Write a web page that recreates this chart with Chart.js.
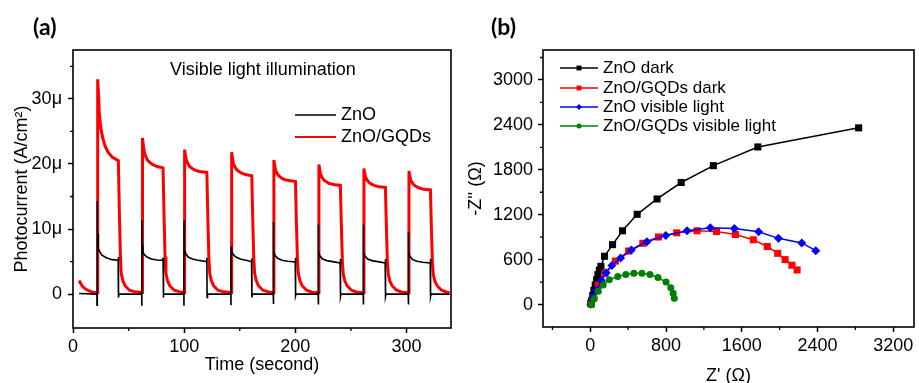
<!DOCTYPE html>
<html>
<head>
<meta charset="utf-8">
<script src="https://cdn.jsdelivr.net/npm/chart.js@4.4.1/dist/chart.umd.min.js"></script>
<style>
  body { margin: 0; background: #fff; }
  #wrap { position: relative; width: 919px; height: 383px; overflow: hidden; }
  canvas { position: absolute; top: 0; }
  #chartA { left: 0; }
  #chartB { left: 460px; }
</style>
</head>
<body>
<div id="wrap">
  <canvas id="chartA" width="460" height="383"></canvas>
  <canvas id="chartB" width="459" height="383"></canvas>
</div>
<script>
// ---- (a) photocurrent (uA/cm2) vs time (s) ----
const znoTime = [
  5.5, 21.5, 21.6, 21.7, 22.0, 22.5, 22.8, 23.8, 26, 30, 35, 40.6, 40.8, 41.0, 41.4, 61.8,
  61.9, 62.0, 62.3, 62.7, 63.0, 64, 66.5, 70.5, 75.5, 80.8, 81.0, 81.2, 81.6, 99.7,
  99.8, 99.9, 100.2, 101.2, 103.5, 107.5, 112.5, 120.2, 120.4, 120.6, 121.0, 142.0,
  142.1, 142.2, 142.7, 144, 146.5, 150.5, 155.5, 160.6, 160.8, 161.0, 161.4, 180.1,
  180.2, 180.3, 180.6, 181.5, 184, 188, 193, 199.9, 200.1, 200.3, 200.7, 220.5,
  220.6, 220.7, 221.0, 222, 224.5, 228.5, 233.5, 240.3, 240.5, 240.7, 241.1, 261.0,
  261.1, 261.2, 261.5, 262.5, 265, 269, 274, 280.8, 281.0, 281.2, 281.6, 301.5,
  301.6, 301.7, 302.0, 303, 305.5, 309.5, 314.5, 321.3, 321.5, 321.7, 322.1, 338.7
];
const znoCurrent = [
  0.1, 0.0, -1.7, 14.3, 7.0, 9.3, 7.0, 6.6, 6.0, 5.6, 5.3, 5.2, 5.7, -0.5, 0.0, 0.0,
  -1.8, 11.4, 6.8, 7.6, 6.4, 6.1, 5.7, 5.4, 5.25, 5.2, 5.6, -0.5, 0.0, 0.0,
  -1.8, 11.3, 6.8, 6.3, 5.7, 5.4, 5.2, 5.0, 5.6, -0.5, 0.0, 0.0,
  -1.7, 7.3, 6.6, 6.1, 5.7, 5.4, 5.2, 5.0, 5.5, -0.5, 0.0, 0.0,
  -1.5, 11.1, 6.6, 6.0, 5.5, 5.2, 5.05, 4.95, 5.6, -0.3, 0.0, 0.0,
  -1.6, 10.7, 6.5, 5.9, 5.4, 5.15, 5.0, 4.8, 5.4, -0.4, 0.0, 0.0,
  -1.6, 10.7, 6.5, 5.9, 5.4, 5.15, 5.0, 4.8, 5.4, -0.4, 0.0, 0.0,
  -1.6, 9.5, 6.4, 5.8, 5.3, 5.05, 4.9, 4.8, 5.4, -0.4, 0.0, 0.0
];
const gqdTime = [
  5.5, 7, 9, 12, 15, 18, 21.9,
  22.2, 22.8, 23.7, 25, 26.7, 29, 31.5, 35.5, 40.8, 41.7, 42.6, 43.4, 44.8, 46.8, 50.8, 55.8, 62.2,
  62.5, 63.1, 64.0, 65.3, 67, 69.3, 71.8, 75.8, 81.0, 81.9, 82.8, 83.6, 85, 87, 91, 96, 100.1,
  100.4, 101.0, 101.9, 103.2, 104.9, 107.2, 109.7, 113.7, 120.4, 121.3, 122.2, 123.0, 124.4, 126.4, 130.4, 135.4, 142.4,
  142.7, 143.3, 144.2, 145.5, 147.2, 149.5, 152, 156, 160.8, 161.7, 162.6, 163.4, 164.8, 166.8, 170.8, 175.8, 180.4,
  180.7, 181.3, 182.2, 183.5, 185.2, 187.5, 190, 194, 200.1, 201.0, 201.9, 202.7, 204.1, 206.1, 210.1, 215.1, 220.9,
  221.2, 221.8, 222.7, 224, 225.7, 228, 230.5, 234.5, 240.5, 241.4, 242.3, 243.1, 244.5, 246.5, 250.5, 255.5, 261.4,
  261.7, 262.3, 263.2, 264.5, 266.2, 268.5, 271, 275, 281.0, 281.9, 282.8, 283.6, 285, 287, 291, 296, 301.9,
  302.2, 302.8, 303.7, 305, 306.7, 309, 311.5, 315.5, 321.5, 322.4, 323.3, 324.1, 325.5, 327.5, 331.5, 336.5, 338.7
];
const gqdCurrent = [
  2.1, 1.6, 1.1, 0.7, 0.45, 0.3, 0.25,
  33.0, 31.2, 27.6, 25.5, 24.0, 22.7, 21.8, 21.0, 20.5, 12.7, 6.2, 3.2, 2.1, 1.3, 0.6, 0.35, 0.25,
  24.0, 23.1, 21.9, 21.2, 20.6, 20.2, 19.9, 19.6, 19.4, 12.0, 5.8, 3.2, 2.1, 1.3, 0.6, 0.35, 0.25,
  22.2, 21.5, 20.6, 20.1, 19.6, 19.3, 19.05, 18.85, 18.7, 11.6, 5.6, 3.2, 2.1, 1.3, 0.6, 0.35, 0.25,
  21.8, 21.1, 20.1, 19.6, 19.1, 18.8, 18.55, 18.35, 18.2, 11.3, 5.5, 3.2, 2.1, 1.3, 0.6, 0.35, 0.25,
  20.6, 19.9, 19.05, 18.55, 18.15, 17.85, 17.6, 17.45, 17.3, 10.7, 5.2, 3.2, 2.1, 1.3, 0.6, 0.3, 0.2,
  19.9, 19.2, 18.4, 17.95, 17.5, 17.25, 17.0, 16.85, 16.7, 10.4, 5.0, 3.1, 2.0, 1.3, 0.6, 0.3, 0.2,
  19.3, 18.7, 17.95, 17.55, 17.15, 16.9, 16.7, 16.5, 16.4, 10.2, 4.9, 3.1, 2.0, 1.3, 0.6, 0.3, 0.2,
  18.9, 18.3, 17.55, 17.15, 16.75, 16.5, 16.3, 16.1, 16.0, 9.9, 4.8, 3.0, 2.0, 1.3, 0.6, 0.3, 0.25
];
const timeTicks = [0, 100, 200, 300];
const timeMinor = [50, 150, 250];
const currentTicks = [0, 10, 20, 30];
const currentTickLabels = ['0', '10\u03bc', '20\u03bc', '30\u03bc'];
const currentMinor = [5, 15, 25, 35];

// ---- (b) Nyquist plots, Z' and -Z'' in ohm ----
const znoDarkRe = [5, 12, 25, 38, 52, 66, 80, 95, 112, 150, 235, 340, 495, 705, 960, 1300, 1770, 2835];
const znoDarkIm = [15, 50, 120, 190, 260, 330, 400, 460, 510, 645, 800, 985, 1205, 1410, 1630, 1855, 2105, 2360];
const gqdDarkRe = [10, 30, 84, 155, 265, 405, 555, 720, 913, 1128, 1333, 1533, 1722, 1870, 1980, 2058, 2130, 2185];
const gqdDarkIm = [5, 90, 260, 420, 580, 715, 818, 902, 958, 985, 975, 935, 865, 775, 684, 600, 525, 462];
const znoLightRe = [5, 30, 66, 118, 168, 228, 320, 433, 598, 797, 1022, 1268, 1522, 1778, 1988, 2234, 2382];
const znoLightIm = [5, 100, 190, 320, 425, 520, 620, 729, 838, 922, 987, 1025, 1016, 973, 884, 823, 720];
const gqdLightRe = [10, 42, 84, 136, 200, 290, 375, 460, 545, 630, 715, 800, 850, 875, 887];
const gqdLightIm = [0, 76, 177, 262, 330, 375, 400, 418, 418, 400, 360, 300, 225, 150, 84];
const zReTicks = [0, 800, 1600, 2400, 3200];
const zReMinor = [-400, 400, 1200, 2000, 2800];
const zImTicks = [0, 600, 1200, 1800, 2400, 3000];
const zImMinor = [300, 900, 1500, 2100, 2700, 3300];

const FONT = "'Liberation Sans', Arial, sans-serif";
const pts = (xs, ys) => xs.map((x, i) => ({ x, y: ys[i] }));

// frame box, short minor ticks, panel letter, legend and notes
function decorPlugin(opts) {
  return {
    id: 'decor',
    afterDatasetsDraw(chart) {
      const ctx = chart.ctx;
      const a = chart.chartArea;
      const xs = chart.scales.x, ys = chart.scales.y;
      ctx.save();
      ctx.strokeStyle = '#000';
      ctx.lineWidth = 1.6;
      ctx.strokeRect(a.left, a.top, a.right - a.left, a.bottom - a.top);
      ctx.lineWidth = 1.3;
      ctx.beginPath();
      opts.xMinor.forEach(v => {
        const px = xs.getPixelForValue(v);
        ctx.moveTo(px, a.bottom);
        ctx.lineTo(px, a.bottom + 3);
      });
      opts.yMinor.forEach(v => {
        const py = ys.getPixelForValue(v);
        ctx.moveTo(a.left, py);
        ctx.lineTo(a.left - 3, py);
      });
      ctx.stroke();
      ctx.restore();
    },
    afterDraw(chart) {
      const ctx = chart.ctx;
      ctx.save();
      ctx.fillStyle = '#000';
      ctx.textBaseline = 'middle';
      ctx.textAlign = 'left';
      ctx.font = "bold 23px Lato, 'Liberation Sans', sans-serif";
      ctx.fillText(opts.letter, opts.letterX, 28);
      (opts.notes || []).forEach(n => {
        ctx.font = n.size + 'px ' + FONT;
        ctx.fillText(n.text, n.x, n.y);
      });
      opts.legend.forEach(item => {
        ctx.strokeStyle = item.color;
        ctx.lineWidth = item.width;
        ctx.beginPath();
        ctx.moveTo(item.x1, item.y);
        ctx.lineTo(item.x2, item.y);
        ctx.stroke();
        if (item.marker) {
          ctx.fillStyle = item.color;
          Chart.helpers.drawPoint(ctx, { pointStyle: item.marker, radius: item.r, borderWidth: 0 },
            (item.x1 + item.x2) / 2, item.y);
        }
        ctx.fillStyle = '#000';
        ctx.font = item.size + 'px ' + FONT;
        ctx.fillText(item.label, item.x2 + 5, item.y);
      });
      ctx.restore();
    }
  };
}

function axis(cfg) {
  return {
    type: 'linear',
    min: cfg.min,
    max: cfg.max,
    border: { display: false },
    grid: { display: true, drawOnChartArea: false, drawTicks: true, tickLength: 5, tickColor: '#000', tickWidth: 1.5 },
    afterBuildTicks: s => { s.ticks = cfg.ticks.map(v => ({ value: v })); },
    afterFit: s => {
      if (cfg.width) s.width = cfg.width;
      if (cfg.height) s.height = cfg.height;
      s.paddingLeft = 0; s.paddingRight = 0; s.paddingTop = 0; s.paddingBottom = 0;
    },
    ticks: {
      autoSkip: false,
      maxRotation: 0,
      color: '#000',
      padding: cfg.tickPad,
      font: { family: FONT, size: 18 },
      callback: (v, i) => cfg.labels ? cfg.labels[i] : String(v)
    },
    title: {
      display: true,
      text: cfg.title,
      color: '#000',
      font: { family: FONT, size: 18 },
      padding: cfg.titlePad
    }
  };
}

const common = {
  responsive: false,
  animation: false,
  devicePixelRatio: 1,
  events: [],
  plugins: { legend: { display: false }, tooltip: { enabled: false } }
};

new Chart(document.getElementById('chartA'), {
  type: 'scatter',
  data: {
    datasets: [
      { label: 'ZnO', data: pts(znoTime, znoCurrent), showLine: true, borderColor: '#000000',
        borderWidth: 1.6, pointRadius: 0, tension: 0, order: 1 },
      { label: 'ZnO/GQDs', data: pts(gqdTime, gqdCurrent), showLine: true, borderColor: '#ff0000',
        borderWidth: 3, pointRadius: 0, tension: 0, order: 2 }
    ]
  },
  options: {
    ...common,
    layout: { padding: { left: 0, top: 50, right: 9, bottom: 0 } },
    scales: {
      x: axis({ min: 0, max: 340, ticks: timeTicks, height: 55, tickPad: 3,
        title: 'Time (second)', titlePad: { top: 0, bottom: 7 } }),
      y: axis({ min: -5.2, max: 37.5, ticks: currentTicks, labels: currentTickLabels, width: 73, tickPad: 6,
        title: 'Photocurrent (A/cm\u00b2)', titlePad: { top: 11, bottom: 0 } })
    }
  },
  plugins: [decorPlugin({
    letter: '(a)', letterX: 33,
    xMinor: timeMinor, yMinor: currentMinor,
    notes: [{ text: 'Visible light illumination', x: 170, y: 70, size: 18 }],
    legend: [
      { label: 'ZnO', color: '#000', width: 1.6, x1: 295, x2: 336, y: 115, size: 18 },
      { label: 'ZnO/GQDs', color: '#ff0000', width: 2, x1: 295, x2: 336, y: 137, size: 18 }
    ]
  })]
});

const nyq = (label, re, im, color, marker, r, order) => ({
  label, data: pts(re, im), showLine: true, borderColor: color, backgroundColor: color,
  borderWidth: 1.5, pointStyle: marker, pointRadius: r, pointBorderWidth: 0, tension: 0, order
});

new Chart(document.getElementById('chartB'), {
  type: 'scatter',
  data: {
    datasets: [
      nyq('ZnO dark', znoDarkRe, znoDarkIm, '#000000', 'rect', 5, 4),
      nyq('ZnO/GQDs dark', gqdDarkRe, gqdDarkIm, '#ff0000', 'rect', 5, 3),
      nyq('ZnO visible light', znoLightRe, znoLightIm, '#0000ff', 'rectRot', 4.5, 2),
      nyq('ZnO/GQDs visible light', gqdLightRe, gqdLightIm, '#008000', 'circle', 3.5, 1)
    ]
  },
  options: {
    ...common,
    layout: { padding: { left: 0, top: 50, right: 2, bottom: 0 } },
    scales: {
      x: axis({ min: -500, max: 3420, ticks: zReTicks, height: 56, tickPad: 3,
        title: "Z' (\u03a9)", titlePad: { top: 0, bottom: -4 } }),
      y: axis({ min: -300, max: 3400, ticks: zImTicks, width: 83, tickPad: 5,
        title: "-Z'' (\u03a9)", titlePad: { top: 5, bottom: 0 } })
    }
  },
  plugins: [decorPlugin({
    letter: '(b)', letterX: 31,
    xMinor: zReMinor, yMinor: zImMinor,
    legend: [
      { label: 'ZnO dark', color: '#000', width: 1.5, x1: 100, x2: 138, y: 68, size: 17, marker: 'rect', r: 3.5 },
      { label: 'ZnO/GQDs dark', color: '#ff0000', width: 1.5, x1: 100, x2: 138, y: 88, size: 17, marker: 'rect', r: 3.5 },
      { label: 'ZnO visible light', color: '#0000ff', width: 1.5, x1: 100, x2: 138, y: 107, size: 17, marker: 'rectRot', r: 3 },
      { label: 'ZnO/GQDs visible light', color: '#008000', width: 1.5, x1: 100, x2: 138, y: 126, size: 17, marker: 'circle', r: 2.5 }
    ]
  })]
});
</script>
</body>
</html>
